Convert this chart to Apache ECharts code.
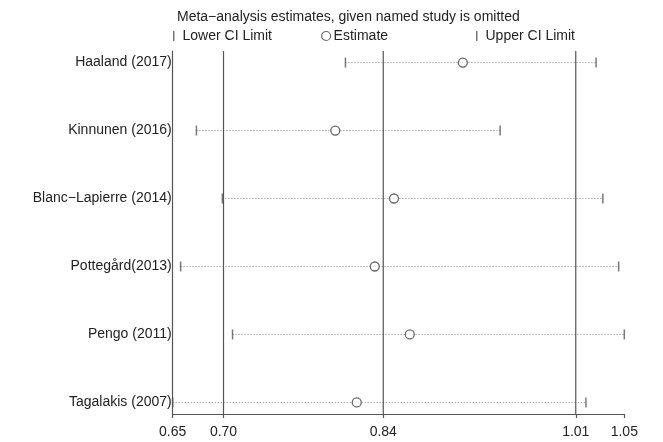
<!DOCTYPE html>
<html>
<head>
<meta charset="utf-8">
<script src="https://cdn.jsdelivr.net/npm/echarts@6/dist/echarts.min.js"></script>
<style>
  html, body { margin: 0; padding: 0; background: #fff; }
  #chart { width: 663px; height: 442px; }
</style>
</head>
<body>
<div id="chart"></div>
<script>
  // studies, top to bottom
  var studies = ['Haaland (2017)', 'Kinnunen (2016)', 'Blanc\u2212Lapierre (2014)', 'Pottegård(2013)', 'Pengo (2011)', 'Tagalakis (2007)'];
  var estimates = [0.907, 0.794, 0.846, 0.829, 0.860, 0.813];
  var lowerCI = [0.803, 0.671, 0.694, 0.657, 0.703, 0.650];
  var upperCI = [1.025, 0.940, 1.031, 1.045, 1.050, 1.016];

  // overall lower / estimate / upper (vertical reference lines)
  var overallValues = [0.695, 0.8365, 1.007];

  // x axis ticks and their printed labels
  var tickValues = [0.65, 0.695, 0.8365, 1.007, 1.05];
  var tickLabels = ['0.65', '0.70', '0.84', '1.01', '1.05'];

  var FONT = '"Liberation Sans", Arial, sans-serif';
  var INK = '#555';
  var Y_MIN = 0.83, Y_MAX = 6.17;

  var chartDom = document.getElementById('chart');
  var chart = echarts.init(chartDom);

  var rowPos = studies.map(function(s, i) { return i + 1; });

  var estData = estimates.map(function(v, i) { return [v, rowPos[i]]; });
  var lowData = lowerCI.map(function(v, i) { return [v, rowPos[i]]; });
  var upData = upperCI.map(function(v, i) { return [v, rowPos[i]]; });
  var ciData = studies.map(function(s, i) { return [lowerCI[i], upperCI[i], rowPos[i]]; });

  var legendText = { fontSize: 14, color: '#222', fontFamily: FONT };

  var option = {
    animation: false,
    textStyle: { fontFamily: FONT },
    title: {
      text: 'Meta\u2212analysis estimates, given named study is omitted',
      left: 177,
      top: 10,
      padding: 0,
      textStyle: { fontSize: 14, fontWeight: 'normal', color: '#222', fontFamily: FONT }
    },
    legend: [
      {
        data: ['Lower CI Limit'], left: 173, top: 29, padding: 0,
        icon: 'rect', itemWidth: 1.5, itemHeight: 10,
        textStyle: echarts.util.extend({ padding: [0, 0, 0, 3] }, legendText)
      },
      {
        data: [{ name: 'Estimate', icon: 'circle', itemStyle: { color: '#fff', borderColor: '#444', borderWidth: 1.2 } }],
        left: 321, top: 29, padding: 0,
        itemWidth: 9, itemHeight: 9,
        textStyle: echarts.util.extend({ padding: [0, 0, 0, -2] }, legendText)
      },
      {
        data: ['Upper CI Limit'], left: 476, top: 29, padding: 0,
        icon: 'rect', itemWidth: 1.5, itemHeight: 10,
        textStyle: echarts.util.extend({ padding: [0, 0, 0, 3] }, legendText)
      }
    ],
    grid: { left: 172.7, right: 38.7, top: 51, bottom: 28 },
    xAxis: {
      type: 'value',
      min: 0.65,
      max: 1.05,
      splitLine: { show: false },
      axisLine: { show: true, lineStyle: { color: INK, width: 1.2 } },
      axisTick: { show: true, length: 4, customValues: tickValues, lineStyle: { color: INK, width: 1.2 } },
      axisLabel: {
        customValues: tickValues,
        margin: 11,
        fontSize: 14,
        color: '#222',
        fontFamily: FONT,
        formatter: function(v) {
          var idx = tickValues.indexOf(v);
          return idx >= 0 ? tickLabels[idx] : '';
        }
      }
    },
    yAxis: {
      type: 'value',
      min: Y_MIN,
      max: Y_MAX,
      inverse: true,
      splitLine: { show: false },
      axisLine: { show: true, lineStyle: { color: INK, width: 1.2 } },
      axisTick: { show: false },
      axisLabel: {
        customValues: rowPos,
        margin: 1,
        fontSize: 14,
        color: '#222',
        fontFamily: FONT,
        formatter: function(v) { return studies[v - 1] || ''; }
      }
    },
    series: [
      {
        // overall reference lines
        type: 'custom',
        name: 'overall',
        data: overallValues.map(function(v) { return [v]; }),
        encode: { x: 0 },
        z: 2,
        silent: true,
        renderItem: function(params, api) {
          var top = api.coord([api.value(0), Y_MIN]);
          var bot = api.coord([api.value(0), Y_MAX]);
          return {
            type: 'line',
            shape: { x1: top[0], y1: top[1], x2: bot[0], y2: bot[1] },
            style: { stroke: INK, lineWidth: 1.2 }
          };
        }
      },
      {
        type: 'custom',
        name: 'ci',
        data: ciData,
        encode: { x: [0, 1], y: 2 },
        z: 1,
        renderItem: function(params, api) {
          var p1 = api.coord([api.value(0), api.value(2)]);
          var p2 = api.coord([api.value(1), api.value(2)]);
          return {
            type: 'line',
            shape: { x1: p1[0], y1: p1[1], x2: p2[0], y2: p2[1] },
            style: { stroke: '#7f7f7f', lineWidth: 1, lineDash: [1, 2] }
          };
        }
      },
      {
        type: 'scatter',
        name: 'Lower CI Limit',
        data: lowData,
        symbol: 'rect',
        symbolSize: [1.5, 10],
        itemStyle: { color: INK },
        z: 3
      },
      {
        type: 'scatter',
        name: 'Upper CI Limit',
        data: upData,
        symbol: 'rect',
        symbolSize: [1.5, 10],
        itemStyle: { color: INK },
        z: 3
      },
      {
        type: 'scatter',
        name: 'Estimate',
        data: estData,
        symbol: 'circle',
        symbolSize: 9,
        itemStyle: { color: '#fff', borderColor: '#444', borderWidth: 1.3 },
        z: 4
      }
    ]
  };

  if (option && typeof option === 'object') {
    chart.setOption(option, true);
  }
</script>
</body>
</html>
